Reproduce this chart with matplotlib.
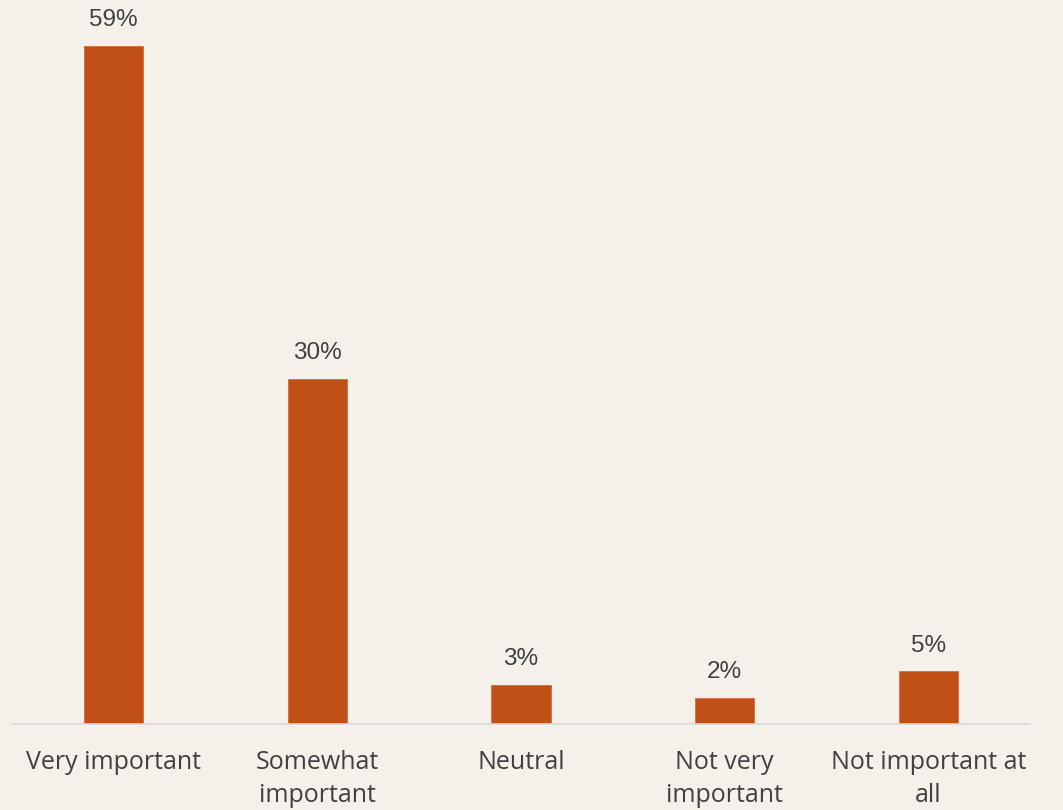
import matplotlib.pyplot as plt

categories = ['Very important', 'Somewhat\nimportant', 'Neutral', 'Not very\nimportant', 'Not important at\nall']
values = [59.0, 30.0, 3.4, 2.3, 4.6]
labels = ['59%', '30%', '3%', '2%', '5%']

bg = '#F5F0EA'
bar_color = '#C05016'
text_color = '#404040'

fig = plt.figure(figsize=(10.63, 8.1), dpi=100, facecolor=bg)
ax = fig.add_axes([12 / 1063, 86 / 810, 1018 / 1063, 724 / 810])
ax.set_facecolor(bg)

x = list(range(len(categories)))
bars = ax.bar(x, values, width=0.29, color=bar_color, edgecolor='#D2703E', linewidth=0.6)

for b, lab in zip(bars, labels):
    ax.annotate(lab, (b.get_x() + b.get_width() / 2, b.get_height()),
                xytext=(0, 10.5), textcoords='offset points', ha='center', va='bottom',
                fontsize=17.5, color=text_color, family='Liberation Sans')

ax.set_xlim(-0.5, 4.5)
ax.set_ylim(0, 724 / 11.5)
ax.set_xticks(x)
ax.set_xticklabels(categories, fontsize=18, color=text_color, family='Open Sans', linespacing=1.38)
ax.tick_params(axis='x', length=0, pad=19)
ax.set_yticks([])
for s in ['top', 'right', 'left']:
    ax.spines[s].set_visible(False)
ax.spines['bottom'].set_color('#D9D9D9')
ax.spines['bottom'].set_linewidth(1.2)

fig.savefig('out.png', dpi=100, facecolor=bg)
